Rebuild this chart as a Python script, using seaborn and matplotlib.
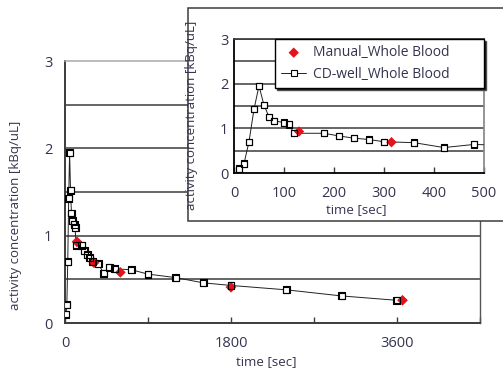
import matplotlib
matplotlib.use("Agg")
import matplotlib.pyplot as plt
import seaborn as sns
import pandas as pd
from matplotlib.patches import Rectangle
from matplotlib.ticker import FixedLocator

# ---- data ----
cd_time = [10, 20, 30, 40, 50, 60, 70, 80, 100, 110, 120, 180, 210, 240, 270,
           300, 360, 420, 480, 540, 720, 900, 1200, 1500, 1800, 2400, 3000, 3600]
cd_conc = [0.10, 0.21, 0.70, 1.43, 1.95, 1.52, 1.26, 1.17, 1.13, 1.09, 0.89,
           0.89, 0.83, 0.78, 0.75, 0.70, 0.68, 0.57, 0.64, 0.62, 0.61, 0.56,
           0.52, 0.46, 0.43, 0.38, 0.31, 0.26]
manual_time = [130, 315, 600, 1800, 3660]
manual_conc = [0.93, 0.69, 0.58, 0.41, 0.26]

main_xticks = [0, 1800, 3600]
main_xminor = [900, 2700, 4500]
inset_xticks = [0, 100, 200, 300, 400, 500]
yticks = [0, 1, 2, 3]

cd_df = pd.DataFrame({"time": cd_time, "conc": cd_conc})
man_df = pd.DataFrame({"time": manual_time, "conc": manual_conc})

sns.set_theme(style="white")
plt.rcParams["font.family"] = ["Open Sans", "DejaVu Sans"]
TXT = "#34344f"
GRID = "#3c3c3c"
RED = "#e3121c"

fig = plt.figure(figsize=(5.03, 3.70), dpi=100)
fig.patch.set_facecolor("white")


def draw(ax, ms_sq, ms_d, grid_levels):
    for y in grid_levels:
        ax.axhline(y, color=GRID, lw=1.1, zorder=0.5)
    sns.lineplot(data=cd_df, x="time", y="conc", ax=ax, color="#222222", lw=0.7,
                 marker="s", ms=ms_sq, mfc="white", mec="black", mew=0.8,
                 estimator=None, sort=False, label="CD-well_Whole Blood",
                 legend=False, zorder=3)
    sns.scatterplot(data=man_df, x="time", y="conc", ax=ax, color=RED,
                    marker="D", s=ms_d, edgecolor="none",
                    label="Manual_Whole Blood", legend=False, zorder=4)
    # square outlines on top of red diamonds
    sns.scatterplot(data=cd_df, x="time", y="conc", ax=ax, marker="s",
                    s=ms_sq ** 2, facecolor="none", edgecolor="black",
                    linewidth=0.8, legend=False, zorder=5)


# ---- main axes ----
ax = fig.add_axes([0.1292, 0.127, 0.825, 0.708])
draw(ax, 5.0, 30, [0.5, 1.0, 1.5, 2.0, 2.5])
ax.set_xlim(0, 4500)
ax.set_ylim(0, 3)
ax.xaxis.set_major_locator(FixedLocator(main_xticks))
ax.xaxis.set_minor_locator(FixedLocator(main_xminor))
ax.set_yticks(yticks)
ax.tick_params(axis="x", which="both", direction="in", length=4, width=1,
               color=GRID, bottom=True, pad=9, labelsize=10.5, labelcolor=TXT)
ax.tick_params(axis="y", length=0, pad=9, labelsize=10.5, labelcolor=TXT)
for s in ["left", "bottom"]:
    ax.spines[s].set_color(GRID)
    ax.spines[s].set_linewidth(1.4)
ax.spines["top"].set_color("#aaaaaa")
ax.spines["top"].set_linewidth(1.1)
ax.spines["right"].set_color("#555555")
ax.spines["right"].set_linewidth(1.0)
ax.set_xlabel("time [sec]", fontsize=9.5, color=TXT)
ax.set_ylabel("activity concentration [kBq/uL]", fontsize=9.5, color=TXT)
ax.yaxis.set_label_coords(-0.104, 0.412)
ax.xaxis.set_label_coords(0.485, -0.122)

# ---- inset frame ----
fig.patches.append(Rectangle((0.3738, 0.4027), 0.7, 0.575,
                             transform=fig.transFigure, facecolor="white",
                             edgecolor=GRID, lw=1.1, zorder=1))

# ---- inset axes ----
ax2 = fig.add_axes([0.4652, 0.5324, 0.497, 0.362])
ax2.set_zorder(2)
draw(ax2, 4.6, 28, [0.5, 1.0, 1.5, 2.0, 2.5, 3.0])
ax2.set_xlim(0, 500)
ax2.set_ylim(0, 3)
ax2.set_xticks(inset_xticks)
ax2.set_yticks(yticks)
ax2.tick_params(axis="x", direction="in", length=4, width=1, color=GRID,
                bottom=True, pad=9, labelsize=10.5, labelcolor=TXT)
ax2.tick_params(axis="y", length=0, pad=4, labelsize=10.5, labelcolor=TXT)
for s in ["left", "bottom"]:
    ax2.spines[s].set_color("black")
    ax2.spines[s].set_linewidth(1.3)
ax2.spines["top"].set_color(GRID)
ax2.spines["right"].set_color("#888888")
ax2.set_xlabel("time [sec]", fontsize=9.5, color=TXT)
ax2.set_ylabel("activity concentration [kBq/uL]", fontsize=9.5, color=TXT)
ax2.yaxis.set_label_coords(-0.144, 0.43)
ax2.xaxis.set_label_coords(0.49, -0.225)

h, l = ax2.get_legend_handles_labels()
order = [l.index("Manual_Whole Blood"), l.index("CD-well_Whole Blood")]
leg = ax2.legend([h[i] for i in order], [l[i] for i in order],
                 loc="upper left", bbox_to_anchor=(0.164, 0.0, 0.836, 1.0),
                 mode="expand", borderaxespad=0, fancybox=False,
                 framealpha=1, edgecolor="black", fontsize=10,
                 handlelength=1.8, handletextpad=0.5, labelspacing=0.45,
                 borderpad=0.45,
                 shadow={"ox": 1.5, "oy": -1.5, "facecolor": "#111111",
                         "alpha": 1})
leg.get_frame().set_linewidth(1.0)
for t in leg.get_texts():
    t.set_color(TXT)

fig.savefig("out.png", dpi=100, facecolor="white")
